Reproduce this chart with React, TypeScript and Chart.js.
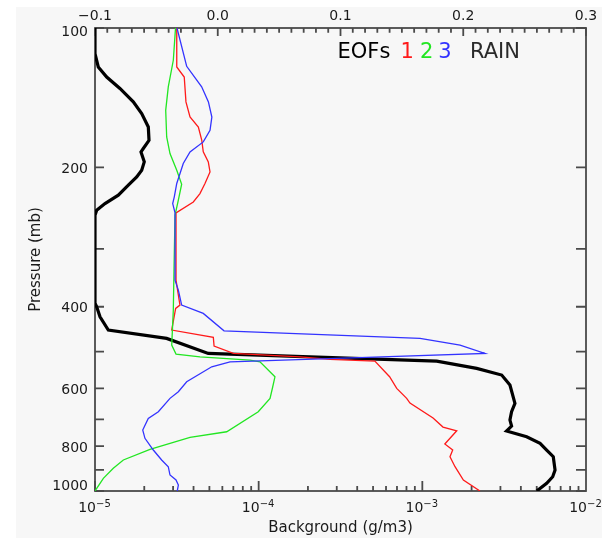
import React, { useEffect, useRef } from 'react';
import { Chart, registerables } from 'chart.js';

Chart.register(...registerables);

// RAIN background profile (bottom log axis, g/m3) vs pressure (mb)
const rainP = [100, 113.6, 121.4, 127.6, 135.1, 144.4, 153.0, 163.6, 174.8, 182.1, 185.2, 194.6, 202.8, 209.7, 218.5, 229.7, 239.4, 247.5, 253.7, 392.8, 400.1, 420.5, 449.2, 468.2, 504.4, 513.0, 524.1, 543.4, 561.8, 590.4, 646.7, 674.3, 702.7, 724.0, 742.2, 763.5, 789.0, 815.7, 843.3, 900.9, 931.4, 962.5, 1000];
const rainV = [1.0e-5, 1.0e-5, 1.047e-5, 1.179e-5, 1.42e-5, 1.714e-5, 1.929e-5, 2.117e-5, 2.138e-5, 1.973e-5, 1.91e-5, 2.0e-5, 1.929e-5, 1.798e-5, 1.598e-5, 1.388e-5, 1.151e-5, 1.024e-5, 1.0e-5, 1.0e-5, 1.024e-5, 1.073e-5, 1.206e-5, 2.74e-5, 4.92e-5, 2.06e-4, 1.224e-3, 2.148e-3, 3.055e-3, 3.43e-3, 3.68e-3, 3.51e-3, 3.43e-3, 3.51e-3, 3.27e-3, 4.34e-3, 5.24e-3, 5.75e-3, 6.31e-3, 6.47e-3, 6.26e-3, 5.75e-3, 5.0e-3];

// EOF 1 (red), top linear axis
const eof1P = [100, 121.4, 127.6, 144.4, 155.7, 163.6, 174.8, 185.2, 194.6, 204.6, 216.7, 227.8, 237.5, 250.8, 350.4, 396.8, 403.3, 449.2, 465.8, 486.4, 504.4, 513.0, 519.6, 524.1, 566.6, 600.2, 630.8, 645.7, 695.8, 727.6, 741.1, 791.7, 815.7, 843.3, 886.2, 946.8, 1000];
const eof1V = [-0.0334, -0.0334, -0.0273, -0.0259, -0.0226, -0.0158, -0.0130, -0.0118, -0.0077, -0.0063, -0.0104, -0.0145, -0.0199, -0.0340, -0.0340, -0.0308, -0.0343, -0.0375, -0.0036, -0.0030, 0.0127, 0.0670, 0.0914, 0.1280, 0.1400, 0.1458, 0.1539, 0.1566, 0.1754, 0.1835, 0.1947, 0.1850, 0.1914, 0.1892, 0.1933, 0.2001, 0.2136];

// EOF 2 (green)
const eof2P = [100, 117.4, 134.0, 150.6, 171.9, 186.7, 202.8, 217.5, 235.5, 253.7, 328.1, 406.7, 484.0, 506.1, 513.0, 521.5, 525.9, 566.6, 595.4, 630.8, 674.3, 744.8, 765.8, 812.8, 857.2, 893.3, 938.9, 1000];
const eof2V = [-0.0344, -0.0362, -0.0403, -0.0424, -0.0416, -0.0389, -0.0334, -0.0294, -0.0321, -0.0348, -0.0356, -0.0362, -0.0375, -0.0340, -0.0145, 0.0263, 0.0344, 0.0466, 0.0448, 0.0426, 0.0330, 0.0073, -0.0226, -0.0552, -0.0769, -0.0851, -0.0932, -0.1000];

// EOF 3 (blue)
const eof3P = [100, 121.0, 134.0, 144.4, 155.7, 166.3, 176.2, 185.2, 196.2, 216.7, 231.6, 239.4, 250.8, 350.4, 368.3, 396.8, 413.5, 450.8, 468.2, 484.0, 504.4, 514.5, 525.9, 539.1, 580.8, 610.4, 630.8, 674.3, 696.8, 738.5, 769.6, 815.7, 857.2, 886.2, 923.6, 946.8, 970.6, 1000];
const eof3V = [-0.0332, -0.0253, -0.0131, -0.0076, -0.0048, -0.0063, -0.0118, -0.0226, -0.0281, -0.0334, -0.0354, -0.0367, -0.0348, -0.0348, -0.0321, -0.0294, -0.0118, 0.0051, 0.1648, 0.1974, 0.2177, 0.1213, 0.0100, -0.0049, -0.0253, -0.0321, -0.0389, -0.0484, -0.0566, -0.0611, -0.0593, -0.0525, -0.0457, -0.0403, -0.0389, -0.0340, -0.0321, -0.0330];

// Axis ticks and labels
const yTicks = [100, 200, 300, 400, 500, 600, 700, 800, 900, 1000];
const yLabels = ['100', '200', '', '400', '', '600', '', '800', '', '1000'];
const bottomDecades = [1e-5, 1e-4, 1e-3, 1e-2];
const bottomExps = ['\u22125', '\u22124', '\u22123', '\u22122'];
const topMajor = [-0.1, 0.0, 0.1, 0.2, 0.3];
const topLabels = ['\u22120.1', '0.0', '0.1', '0.2', '0.3'];

const RED = '#ff1a1a';
const GREEN = '#22e622';
const BLUE = '#3333ff';
const AXIS = '#4a4a4a';
const FONT = '"DejaVu Sans", sans-serif';

const pts = (p: number[], v: number[]) => p.map((pp, i) => ({ x: v[i], y: pp }));

const idlAxes = {
  id: 'idlAxes',
  beforeDraw(chart: any) {
    const ctx = chart.ctx;
    ctx.save();
    ctx.fillStyle = '#f7f7f7';
    ctx.fillRect(16, 7, 586, 531);
    ctx.restore();
  },
  beforeDatasetsDraw(chart: any) {
    const { ctx, chartArea: a, scales } = chart;
    const y = scales.y, xb = scales.xb, xt = scales.xt;
    ctx.save();
    ctx.strokeStyle = AXIS;
    ctx.lineWidth = 1.8;
    ctx.strokeRect(a.left, a.top, a.right - a.left, a.bottom - a.top);
    ctx.beginPath();
    yTicks.forEach((v) => {
      const py = y.getPixelForValue(v);
      ctx.moveTo(a.left, py); ctx.lineTo(a.left + 9, py);
      ctx.moveTo(a.right, py); ctx.lineTo(a.right - 10, py);
    });
    for (let d = 0; d < bottomDecades.length - 1; d++) {
      for (let k = 1; k <= 9; k++) {
        const px = xb.getPixelForValue(bottomDecades[d] * k);
        ctx.moveTo(px, a.bottom); ctx.lineTo(px, a.bottom - (k === 1 ? 10 : 5));
      }
    }
    for (let i = 0; i <= 40; i++) {
      const val = -0.1 + i * 0.01;
      const px = xt.getPixelForValue(val);
      ctx.moveTo(px, a.top); ctx.lineTo(px, a.top + (i % 10 === 0 ? 8 : 4.7));
    }
    ctx.stroke();
    ctx.restore();
  },
  afterDraw(chart: any) {
    const { ctx, chartArea: a, scales } = chart;
    const y = scales.y, xb = scales.xb, xt = scales.xt;
    ctx.save();
    ctx.fillStyle = '#1a1a1a';
    ctx.font = '14px ' + FONT;
    // left labels
    ctx.textAlign = 'right';
    ctx.textBaseline = 'middle';
    yTicks.forEach((v, i) => {
      if (!yLabels[i]) return;
      let py = y.getPixelForValue(v) + 2;
      py = Math.max(py, a.top + 4.5);
      py = Math.min(py, a.bottom - 5);
      ctx.fillText(yLabels[i], 88, py);
    });
    // top labels
    ctx.textAlign = 'center';
    ctx.textBaseline = 'alphabetic';
    topMajor.forEach((v, i) => {
      ctx.fillText(topLabels[i], xt.getPixelForValue(v), 20);
    });
    // bottom labels 10^n
    bottomDecades.forEach((v, i) => {
      const px = xb.getPixelForValue(v) + 1;
      ctx.font = '14px ' + FONT;
      ctx.textAlign = 'right';
      ctx.fillText('10', px, 512);
      ctx.font = '10px ' + FONT;
      ctx.textAlign = 'left';
      ctx.fillText(bottomExps[i], px, 507);
    });
    // axis titles
    ctx.font = '15px ' + FONT;
    ctx.textAlign = 'center';
    ctx.fillText('Background (g/m3)', (a.left + a.right) / 2, 532);
    ctx.save();
    ctx.translate(39.5, (a.top + a.bottom) / 2);
    ctx.rotate(-Math.PI / 2);
    ctx.fillText('Pressure (mb)', 0, 0);
    ctx.restore();
    // legend text
    ctx.font = '21px ' + FONT;
    ctx.textAlign = 'left';
    ctx.fillStyle = '#000000';
    ctx.fillText('EOFs', 337.5, 57.5);
    ctx.fillStyle = RED;
    ctx.fillText('1', 400.4, 57.5);
    ctx.fillStyle = GREEN;
    ctx.fillText('2', 420, 57.5);
    ctx.fillStyle = BLUE;
    ctx.fillText('3', 438.3, 57.5);
    ctx.fillStyle = '#2a2a2a';
    ctx.fillText('RAIN', 470, 57.5);
    ctx.restore();
  },
};

export default function App() {
  const ref = useRef<HTMLCanvasElement | null>(null);
  useEffect(() => {
    if (!ref.current) return;
    const line = (data: any, color: string, width: number, xAxisID: string, order: number) => ({
      data, borderColor: color, borderWidth: width, showLine: true, pointRadius: 0,
      fill: false, tension: 0, xAxisID, yAxisID: 'y', order,
    });
    const chart = new Chart(ref.current, {
      type: 'scatter',
      data: {
        datasets: [
          line(pts(rainP, rainV), '#000000', 3.2, 'xb', 4),
          line(pts(eof1P, eof1V), RED, 1.3, 'xt', 3),
          line(pts(eof2P, eof2V), GREEN, 1.3, 'xt', 2),
          line(pts(eof3P, eof3V), BLUE, 1.3, 'xt', 1),
        ] as any,
      },
      options: {
        animation: false,
        responsive: false,
        devicePixelRatio: 1,
        events: [],
        layout: { padding: { left: 95, right: 16, top: 28, bottom: 47 } },
        plugins: { legend: { display: false }, tooltip: { enabled: false } },
        scales: {
          xb: { axis: 'x', type: 'logarithmic', position: 'bottom', min: 1e-5, max: 1e-2, display: false },
          xt: { axis: 'x', type: 'linear', position: 'top', min: -0.1, max: 0.3, display: false },
          y: { axis: 'y', type: 'logarithmic', position: 'left', min: 100, max: 1000, reverse: true, display: false },
        } as any,
      },
      plugins: [idlAxes],
    });
    return () => chart.destroy();
  }, []);
  return (
    <div style={{ position: 'fixed', left: 0, top: 0, width: 602, height: 538 }}>
      <canvas ref={ref} width={602} height={538} style={{ display: 'block', width: 602, height: 538 }} />
    </div>
  );
}
